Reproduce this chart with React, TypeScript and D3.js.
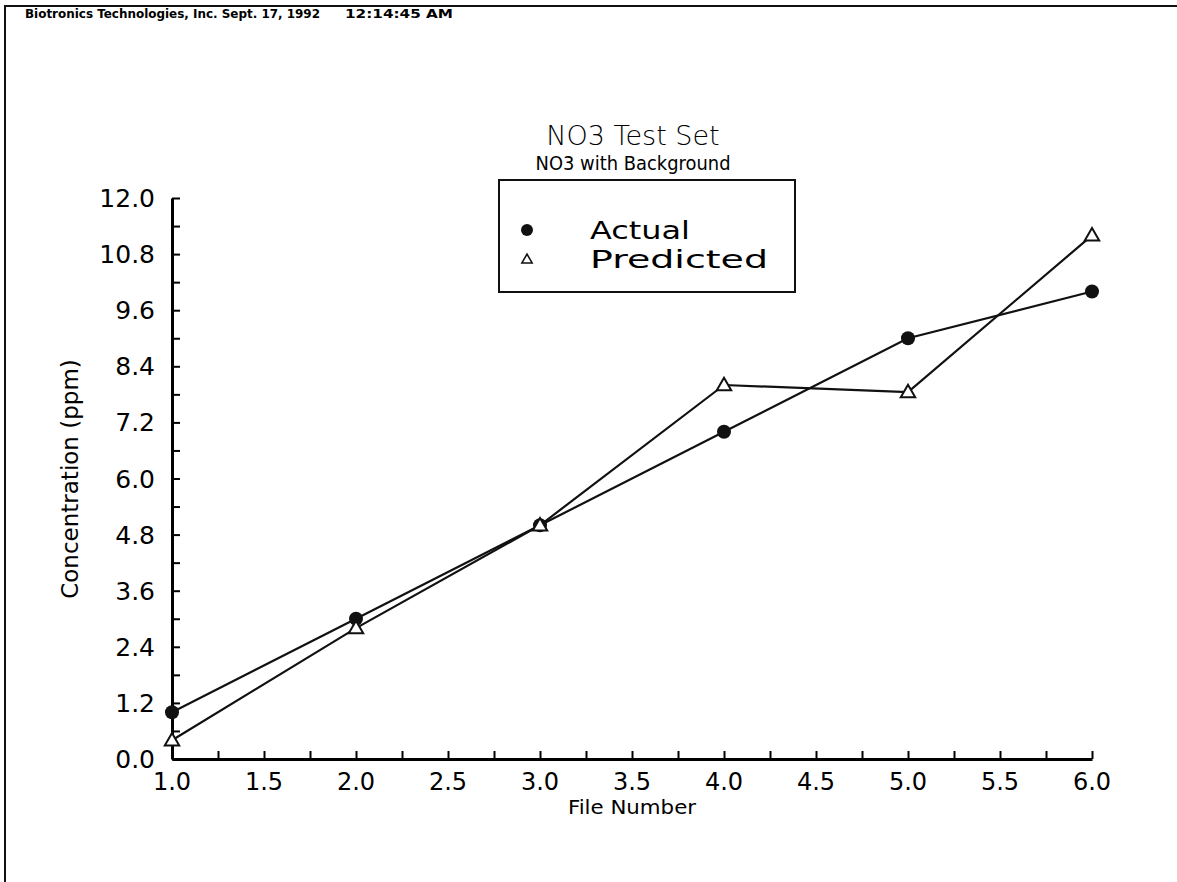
import { useEffect, useRef } from 'react';
import * as d3 from 'd3';

const fileNumbers = [1, 2, 3, 4, 5, 6];
const actual = [1.0, 3.0, 5.0, 7.0, 9.0, 10.0];
const predicted = [0.4, 2.8, 5.0, 8.0, 7.85, 11.2];

const xTicks = [1.0, 1.5, 2.0, 2.5, 3.0, 3.5, 4.0, 4.5, 5.0, 5.5, 6.0];
const yTicks = [0.0, 1.2, 2.4, 3.6, 4.8, 6.0, 7.2, 8.4, 9.6, 10.8, 12.0];

const legendItems = ['Actual', 'Predicted'];
const legendWidths = [100, 178]; // text widths as printed (wide geometric face)

const FONT = '"DejaVu Sans", Verdana, sans-serif';

const App = () => {
    const svgRef = useRef<SVGSVGElement>(null);

    useEffect(() => {
        if (!svgRef.current) return;
        const width = 1177;
        const height = 882;
        const svg = d3.select(svgRef.current)
            .attr('width', width)
            .attr('height', height);

        svg.selectAll('*').remove();

        svg.append('rect').attr('width', width).attr('height', height).attr('fill', '#fff');

        // page frame (top + left edge only, like the scan)
        svg.append('path')
            .attr('d', `M5,882 L5,6 L1177,6`)
            .attr('fill', 'none')
            .attr('stroke', '#111')
            .attr('stroke-width', 2);

        // print header
        svg.append('text')
            .attr('x', 25)
            .attr('y', 18)
            .attr('font-family', FONT)
            .attr('font-size', 12)
            .attr('font-weight', 'bold')
            .attr('textLength', 295)
            .attr('lengthAdjust', 'spacingAndGlyphs')
            .text('Biotronics Technologies, Inc. Sept. 17, 1992');
        svg.append('text')
            .attr('x', 345)
            .attr('y', 18)
            .attr('font-family', FONT)
            .attr('font-size', 12)
            .attr('font-weight', 'bold')
            .attr('textLength', 108)
            .attr('lengthAdjust', 'spacingAndGlyphs')
            .text('12:14:45 AM');

        const margin = { left: 172, right: 1092, top: 198, bottom: 759 };

        const x = d3.scaleLinear().domain([1, 6]).range([margin.left, margin.right]);
        const y = d3.scaleLinear().domain([0, 12]).range([margin.bottom, margin.top]);

        // titles
        svg.append('text')
            .attr('x', 633).attr('y', 145)
            .attr('text-anchor', 'middle')
            .attr('font-family', FONT)
            .attr('font-size', 27)
            .attr('font-weight', 300)
            .text('NO3 Test Set');
        svg.append('text')
            .attr('x', 633).attr('y', 170)
            .attr('text-anchor', 'middle')
            .attr('font-family', FONT)
            .attr('font-size', 20)
            .attr('textLength', 195)
            .attr('lengthAdjust', 'spacingAndGlyphs')
            .text('NO3 with Background');

        // axes
        const xAxis = d3.axisBottom(x)
            .tickValues(d3.range(1, 6.001, 0.25))
            .tickSizeInner(-8)
            .tickSizeOuter(0)
            .tickFormat(() => '');
        const gx = svg.append('g')
            .attr('transform', `translate(0,${margin.bottom})`)
            .call(xAxis);
        gx.select('.domain').attr('stroke-width', 3);
        gx.selectAll('.tick line').attr('stroke-width', 2);

        svg.append('g').selectAll('text')
            .data(xTicks)
            .join('text')
            .attr('x', d => x(d))
            .attr('y', 790)
            .attr('text-anchor', 'middle')
            .attr('font-family', FONT)
            .attr('font-size', 24)
            .text(d => d.toFixed(1));

        const yAxis = d3.axisLeft(y)
            .tickValues(d3.range(0, 12.001, 0.6))
            .tickSizeInner(-8)
            .tickSizeOuter(0)
            .tickFormat(() => '');
        const gy = svg.append('g')
            .attr('transform', `translate(${margin.left},0)`)
            .call(yAxis);
        gy.select('.domain').attr('stroke-width', 3);
        gy.selectAll('.tick line').attr('stroke-width', 2);

        svg.append('g').selectAll('text')
            .data(yTicks)
            .join('text')
            .attr('x', 155)
            .attr('y', d => y(d))
            .attr('dy', '0.36em')
            .attr('text-anchor', 'end')
            .attr('font-family', FONT)
            .attr('font-size', 25)
            .text(d => d.toFixed(1));

        svg.append('text')
            .attr('transform', `translate(78,479) rotate(-90)`)
            .attr('text-anchor', 'middle')
            .attr('font-family', FONT)
            .attr('font-size', 23)
            .text('Concentration (ppm)');

        svg.append('text')
            .attr('x', 632).attr('y', 814)
            .attr('text-anchor', 'middle')
            .attr('font-family', FONT)
            .attr('font-size', 20)
            .attr('textLength', 128)
            .attr('lengthAdjust', 'spacingAndGlyphs')
            .text('File Number');

        // series lines
        const line = d3.line<number>()
            .x((_, i) => x(fileNumbers[i]))
            .y(d => y(d));

        [actual, predicted].forEach(series => {
            svg.append('path')
                .datum(series)
                .attr('d', line)
                .attr('fill', 'none')
                .attr('stroke', '#111')
                .attr('stroke-width', 2.2);
        });

        const triangle = d3.symbol().type(d3.symbolTriangle).size(90);

        svg.append('g').selectAll('circle')
            .data(actual)
            .join('circle')
            .attr('cx', (_, i) => x(fileNumbers[i]))
            .attr('cy', d => y(d))
            .attr('r', 7)
            .attr('fill', '#111');

        svg.append('g').selectAll('path')
            .data(predicted)
            .join('path')
            .attr('d', triangle)
            .attr('transform', (d, i) => `translate(${x(fileNumbers[i])},${y(d) + 1})`)
            .attr('fill', '#fff')
            .attr('stroke', '#111')
            .attr('stroke-width', 2);

        // legend
        const lg = svg.append('g');
        lg.append('rect')
            .attr('x', 499).attr('y', 180)
            .attr('width', 296).attr('height', 112)
            .attr('fill', '#fff')
            .attr('stroke', '#111')
            .attr('stroke-width', 2);

        const rows = lg.selectAll('g.row')
            .data(legendItems)
            .join('g')
            .attr('class', 'row')
            .attr('transform', (_, i) => `translate(0,${230 + i * 29})`);

        rows.each(function (d, i) {
            const r = d3.select(this);
            if (i === 0) {
                r.append('circle').attr('cx', 527).attr('cy', 0).attr('r', 6).attr('fill', '#111');
            } else {
                r.append('path')
                    .attr('d', d3.symbol().type(d3.symbolTriangle).size(45)())
                    .attr('transform', 'translate(527,1)')
                    .attr('fill', '#fff')
                    .attr('stroke', '#111')
                    .attr('stroke-width', 1.6);
            }
            r.append('text')
                .attr('x', 590)
                .attr('dy', '0.36em')
                .attr('font-family', FONT)
                .attr('font-size', 25)
                .attr('textLength', legendWidths[i])
                .attr('lengthAdjust', 'spacingAndGlyphs')
                .text(d);
        });
    }, []);

    return (
        <div style={{ position: 'absolute', left: 0, top: 0, width: 1177, height: 882, background: '#fff' }}>
            <svg ref={svgRef} style={{ display: 'block' }} />
        </div>
    );
};

export default App;
